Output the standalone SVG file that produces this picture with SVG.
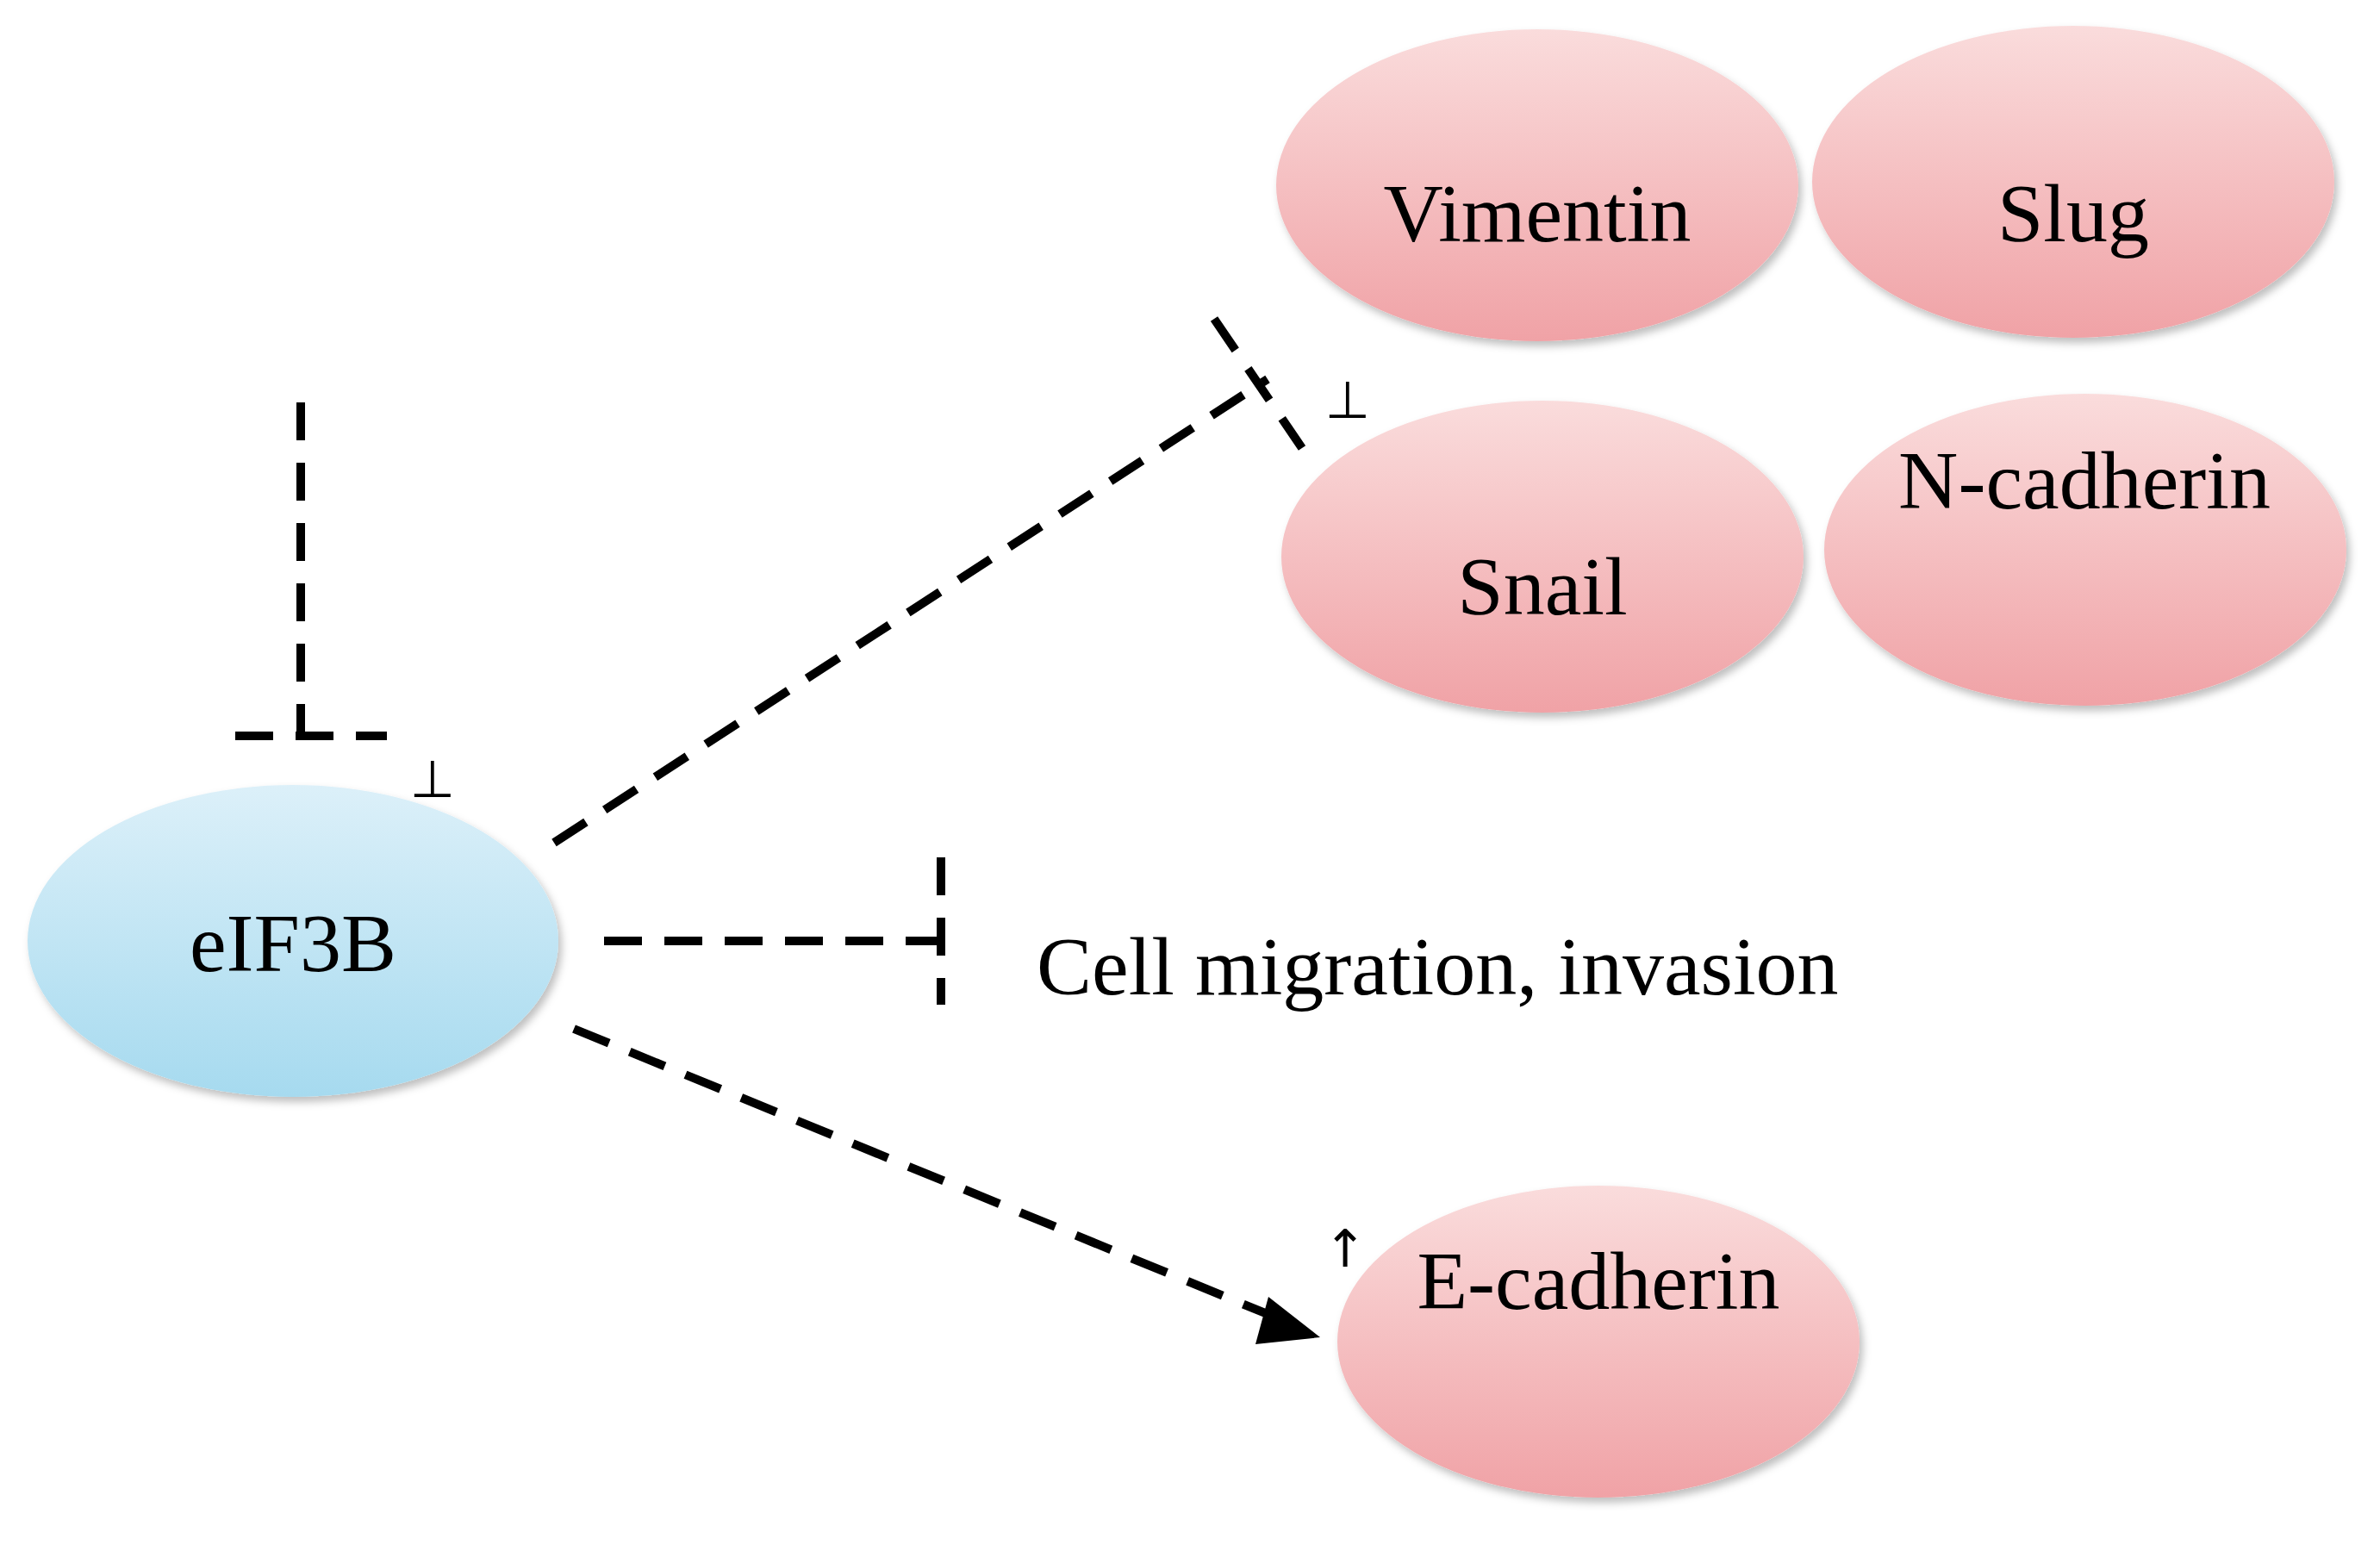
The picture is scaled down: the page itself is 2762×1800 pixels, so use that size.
<svg xmlns="http://www.w3.org/2000/svg" width="2762" height="1800" viewBox="0 0 2762 1800">
<style>
.t{font-family:"Liberation Serif",serif;font-size:96px;fill:#000;text-anchor:middle}
.s{font-family:"DejaVu Sans",sans-serif;font-size:60px;fill:#000;text-anchor:middle}
.c{stroke:#000;stroke-width:10;stroke-dasharray:44 26;fill:none}
.p{fill:url(#pk);filter:url(#sh)}
</style>
<defs>
<linearGradient id="pk" x1="0" y1="0" x2="0" y2="1"><stop offset="0" stop-color="#fadcdc"/><stop offset="1" stop-color="#f0a2a6"/></linearGradient>
<linearGradient id="bl" x1="0" y1="0" x2="0" y2="1"><stop offset="0" stop-color="#dcf0f9"/><stop offset="1" stop-color="#a6daef"/></linearGradient>
<filter id="sh" x="-10%" y="-10%" width="130%" height="130%"><feDropShadow dx="4" dy="6" stdDeviation="5" flood-color="#000" flood-opacity="0.25"/></filter>
<marker id="ah" viewBox="0 0 10 10" refX="8" refY="5" markerWidth="5" markerHeight="5" orient="auto"><path d="M0,0 L10,5 L0,10 z" fill="#000"/></marker>
</defs>
<rect width="2762" height="1800" fill="#fff"/>
<g id="vimentin"><ellipse class="p" cx="1784" cy="215" rx="303" ry="181"/><text class="t" x="1784" y="280">Vimentin</text></g>
<g id="slug"><ellipse class="p" cx="2406" cy="211" rx="303" ry="181"/><text class="t" x="2406" y="280">Slug</text></g>
<g id="snail"><ellipse class="p" cx="1790" cy="646" rx="303" ry="181"/><text class="t" x="1790" y="713">Snail</text></g>
<g id="ncadherin"><ellipse class="p" cx="2420" cy="638" rx="303" ry="181"/><text class="t" x="2419" y="590">N-cadherin</text></g>
<g id="ecadherin"><ellipse class="p" cx="1855" cy="1557" rx="303" ry="181"/><text class="t" x="1855" y="1519">E-cadherin</text></g>
<g id="eif3b"><ellipse cx="340" cy="1092" rx="308" ry="181" fill="url(#bl)" filter="url(#sh)"/><text class="t" x="340" y="1127">eIF3B</text></g>
<g id="migration"><text class="t" x="1203" y="1154" style="text-anchor:start">Cell migration, invasion</text></g>
<g id="connectors">
<path class="c" d="M349,467 L349,854"/>
<path class="c" d="M273,854 L449,854"/>
<path class="c" d="M643,978 L1471,440"/>
<path class="c" d="M1409,370 L1511,520"/>
<path class="c" d="M701,1092 L1092,1092"/>
<path class="c" d="M1092,995 L1092,1166"/>
<path class="c" d="M666,1194 L1500,1537"/>
<path d="M1472,1505 L1532,1552 L1457,1560 z" fill="#000"/>
<text class="s" x="502" y="925">⊥</text>
<text class="s" x="1564" y="485">⊥</text>
<text class="s" x="1561" y="1470">↑</text>
</g>
</svg>
